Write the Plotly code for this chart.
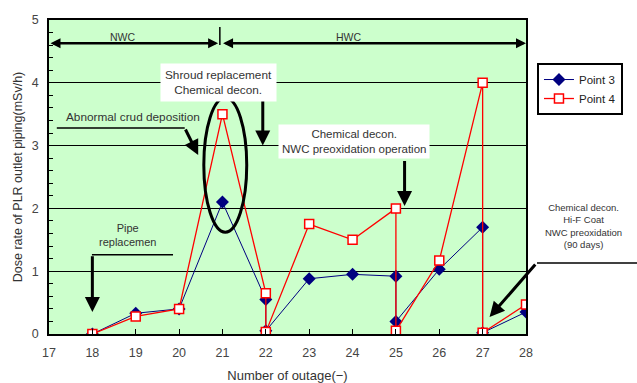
import plotly.graph_objects as go

# Data
outage = [18, 19, 20, 21, 22, 22, 23, 24, 25, 25, 26, 27, 27, 28]
point3 = [0.0, 0.33, 0.40, 2.10, 0.55, 0.05, 0.88, 0.95, 0.92, 0.20, 1.03, 1.70, 0.02, 0.35]
point4 = [0.0, 0.28, 0.40, 3.50, 0.65, 0.03, 1.75, 1.50, 2.00, 0.05, 1.17, 4.00, 0.02, 0.47]
x_ticks = list(range(17, 29))
y_ticks = [0, 1, 2, 3, 4, 5]

FONT = "Liberation Sans, Arial, sans-serif"
TXT = "#333333"

fig = go.Figure()
fig.add_trace(go.Scatter(
    x=outage, y=point3, name="Point 3", mode="lines+markers",
    line=dict(color="#000080", width=1),
    marker=dict(symbol="diamond", size=10, color="#000080"),
))
fig.add_trace(go.Scatter(
    x=outage, y=point4, name="Point 4", mode="lines+markers",
    line=dict(color="#ff0000", width=1.3),
    marker=dict(symbol="square", size=9, color="white", line=dict(color="#ff0000", width=1.5)),
))

shapes = []
# ellipse
shapes.append(dict(type="circle", xref="x", yref="y", x0=20.57, x1=21.56, y0=1.62, y1=3.76,
                   line=dict(color="black", width=3)))
# NWC/HWC divider
shapes.append(dict(type="line", xref="x", yref="y", x0=20.94, x1=20.94, y0=4.60, y1=4.89,
                   line=dict(color="black", width=1.5)))
# abnormal crud underline
shapes.append(dict(type="line", xref="x", yref="y", x0=17.18, x1=20.13, y0=3.28, y1=3.28,
                   line=dict(color="black", width=1.5)))
# pipe replacement line
shapes.append(dict(type="line", xref="x", yref="y", x0=17.99, x1=19.86, y0=1.26, y1=1.26,
                   line=dict(color="black", width=1.5)))
# right-side leader line
shapes.append(dict(type="line", xref="paper", yref="paper", x0=1.023, x1=1.24, y0=0.226, y1=0.226,
                   line=dict(color="black", width=1.5)))

ann = []
def arrow(x, y, ax, ay, w=3):
    ann.append(dict(x=x, y=y, ax=ax, ay=ay, xref="x", yref="y", axref="x", ayref="y",
                    showarrow=True, arrowhead=2, arrowsize=1, arrowwidth=w, arrowcolor="black", text=""))

# NWC / HWC arrows
ann.append(dict(x=20.9, y=4.63, ax=17.0, ay=4.63, xref="x", yref="y", axref="x", ayref="y",
                showarrow=True, arrowhead=2, arrowside="end+start", arrowsize=0.8, arrowwidth=2.5,
                arrowcolor="black", text=""))
ann.append(dict(x=28.0, y=4.63, ax=20.98, ay=4.63, xref="x", yref="y", axref="x", ayref="y",
                showarrow=True, arrowhead=2, arrowside="end+start", arrowsize=0.8, arrowwidth=2.5,
                arrowcolor="black", text=""))
ann.append(dict(x=18.7, y=4.73, xref="x", yref="y", text="NWC", showarrow=False,
                font=dict(family=FONT, size=10.5, color=TXT)))
ann.append(dict(x=23.9, y=4.73, xref="x", yref="y", text="HWC", showarrow=False,
                font=dict(family=FONT, size=10.5, color=TXT)))

# Shroud replacement
arrow(21.93, 3.0, 21.93, 3.74)
ann.append(dict(x=20.9, y=4.0, xref="x", yref="y", text="Shroud replacement<br>Chemical decon.",
                showarrow=False, bgcolor="white", borderpad=4,
                font=dict(family=FONT, size=11.8, color=TXT)))

# Abnormal crud deposition
arrow(20.44, 2.85, 20.13, 3.28)
ann.append(dict(x=18.94, y=3.45, xref="x", yref="y", text="Abnormal crud deposition",
                showarrow=False, font=dict(family=FONT, size=11.8, color=TXT)))

# Chemical decon / NWC preoxidation
arrow(25.2, 2.04, 25.2, 2.78)
ann.append(dict(x=24.03, y=3.06, xref="x", yref="y",
                text="Chemical decon.<br>NWC preoxidation operation",
                showarrow=False, bgcolor="white", borderpad=3,
                font=dict(family=FONT, size=11.5, color=TXT)))

# Pipe replacement
arrow(18.0, 0.35, 18.0, 1.26)
ann.append(dict(x=18.8, y=1.58, xref="x", yref="y", text="Pipe<br>replacemen",
                showarrow=False, font=dict(family=FONT, size=11, color=TXT)))

# Right side note
ann.append(dict(x=27.16, y=0.27, xref="x", yref="y", ax=47, ay=-54,
                showarrow=True, arrowhead=2, arrowsize=1, arrowwidth=3, arrowcolor="black", text=""))
ann.append(dict(x=1.12, y=0.344, xref="paper", yref="paper", xanchor="center", yanchor="middle",
                text="Chemical decon.<br>Hi-F Coat<br>NWC preoxidation<br>(90 days)",
                showarrow=False, font=dict(family=FONT, size=9.5, color=TXT)))

fig.update_layout(
    width=637, height=383,
    margin=dict(l=49, r=111, t=20, b=49),
    paper_bgcolor="white", plot_bgcolor="#ccffcc",
    font=dict(family=FONT, size=12, color=TXT),
    showlegend=True,
    legend=dict(x=1.023, y=0.863, xanchor="left", yanchor="top",
                bgcolor="white", bordercolor="black", borderwidth=2,
                font=dict(family=FONT, size=11.5, color="#222222"),
                itemwidth=30, tracegroupgap=0),
    shapes=shapes, annotations=ann,
    xaxis=dict(range=[17, 28], tickvals=x_ticks, ticktext=[str(v) for v in x_ticks],
               ticks="inside", ticklen=5, tickcolor="black", showgrid=False, zeroline=False,
               showline=True, linecolor="black", linewidth=1.5, mirror=True,
               ticklabelstandoff=6, automargin=False,
               title=dict(text="Number of outage(\u2212)", font=dict(size=13), standoff=12),
               tickfont=dict(size=12.5, color="#444444")),
    yaxis=dict(range=[0, 5], tickvals=y_ticks, ticktext=[str(v) for v in y_ticks],
               ticks="inside", ticklen=5, tickcolor="black",
               showgrid=True, gridcolor="black", gridwidth=1, zeroline=False,
               showline=True, linecolor="black", linewidth=1.5, mirror=True,
               ticklabelstandoff=6, automargin=False,
               minor=dict(dtick=0.2, ticks="inside", ticklen=4, tickcolor="black", showgrid=False),
               title=dict(text="Dose rate of PLR outlet piping(mSv/h)", font=dict(size=12.5), standoff=6),
               tickfont=dict(size=12.5, color="#444444")),
)

fig.write_html("out.html", config={"displayModeBar": False},
               post_script="document.body.style.margin='0';document.body.style.padding='0';")
